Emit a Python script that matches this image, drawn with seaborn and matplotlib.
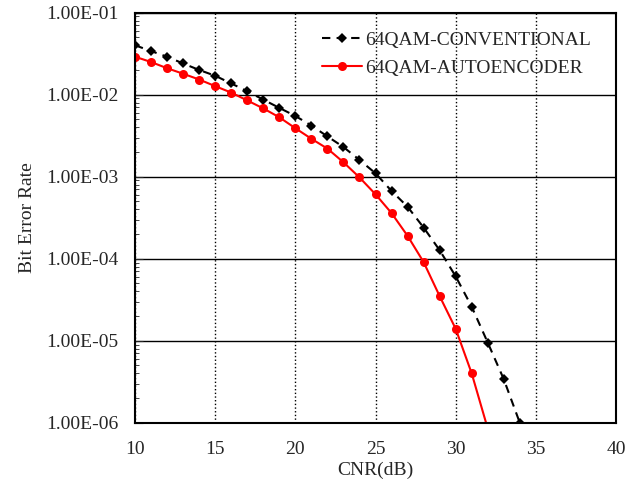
import numpy as np
import pandas as pd
import matplotlib
matplotlib.use("Agg")
import matplotlib.pyplot as plt
import seaborn as sns
from matplotlib.ticker import FuncFormatter, LogLocator, NullFormatter

# datos
cnr_conv = [10, 11, 12, 13, 14, 15, 16, 17, 18, 19, 20, 21, 22, 23, 24, 25,
            26, 27, 28, 29, 30, 31, 32, 33, 34]
ber_conv = [4.0e-2, 3.4e-2, 2.9e-2, 2.4e-2, 2.0e-2, 1.7e-2, 1.37e-2, 1.1e-2,
            8.7e-3, 6.9e-3, 5.5e-3, 4.2e-3, 3.1e-3, 2.3e-3, 1.6e-3, 1.1e-3,
            6.7e-4, 4.3e-4, 2.4e-4, 1.27e-4, 6.1e-5, 2.6e-5, 9.5e-6, 3.4e-6, 1.0e-6]

cnr_auto = [10, 11, 12, 13, 14, 15, 16, 17, 18, 19, 20, 21, 22, 23, 24, 25,
            26, 27, 28, 29, 30, 31, 32]
ber_auto = [2.9e-2, 2.5e-2, 2.1e-2, 1.8e-2, 1.53e-2, 1.27e-2, 1.06e-2, 8.5e-3,
            6.8e-3, 5.3e-3, 3.9e-3, 2.9e-3, 2.2e-3, 1.5e-3, 9.8e-4, 6.1e-4,
            3.6e-4, 1.9e-4, 9.1e-5, 3.5e-5, 1.4e-5, 4.0e-6, 8.5e-7]

label_conv = "64QAM-CONVENTIONAL"
label_auto = "64QAM-AUTOENCODER"

df = pd.concat([
    pd.DataFrame({"CNR": cnr_conv, "BER": ber_conv, "serie": label_conv}),
    pd.DataFrame({"CNR": cnr_auto, "BER": ber_auto, "serie": label_auto}),
])

sns.set_style("white")
plt.rcParams["font.family"] = ["Liberation Serif", "DejaVu Serif"]

fig, ax = plt.subplots(figsize=(6.4, 4.86), dpi=100)
fig.subplots_adjust(left=0.211, right=0.9625, top=0.974, bottom=0.13)

sns.lineplot(data=df, x="CNR", y="BER", hue="serie", style="serie",
             palette={label_conv: "black", label_auto: "#ff0000"},
             dashes={label_conv: (4, 3), label_auto: ""},
             markers={label_conv: "D", label_auto: "o"},
             markersize=6, markeredgewidth=0, linewidth=1.5, ax=ax)

# ajustar tamaño de marcadores por serie
for line in ax.lines:
    if line.get_marker() == "D":
        line.set_markersize(5)
    elif line.get_marker() == "o":
        line.set_markersize(6.5)

ax.set_yscale("log")
ax.set_xlim(10, 40)
ax.set_ylim(1e-6, 1e-1)
ax.set_xticks([10, 15, 20, 25, 30, 35, 40])
ax.yaxis.set_major_locator(LogLocator(base=10, numticks=10))
ax.yaxis.set_minor_locator(LogLocator(base=10, subs=np.arange(2, 10), numticks=10))
ax.yaxis.set_minor_formatter(NullFormatter())
ax.yaxis.set_major_formatter(FuncFormatter(lambda v, p: "%.2E" % v))

# rejilla: horizontal solida, vertical punteada
ax.grid(axis="y", which="major", color="black", linestyle="-", linewidth=1)
ax.grid(axis="x", which="major", color="black", linestyle=":", linewidth=1)

ax.tick_params(axis="y", which="major", direction="in", length=6, left=True,
               labelsize=14, pad=12)
ax.tick_params(axis="y", which="minor", direction="in", length=3, left=True)
ax.tick_params(axis="x", which="major", length=0, labelsize=14, pad=13)

for s in ax.spines.values():
    s.set_color("black")
    s.set_linewidth(1.5)

ax.set_xlabel("CNR(dB)", fontsize=14, labelpad=3)
ax.set_ylabel("Bit Error Rate", fontsize=14, labelpad=7)

leg = ax.legend(loc="upper right", bbox_to_anchor=(0.985, 0.998), frameon=False,
                fontsize=14, handlelength=2.1, handletextpad=0.15, labelspacing=0.55)

plt.savefig("out.png", dpi=100)
